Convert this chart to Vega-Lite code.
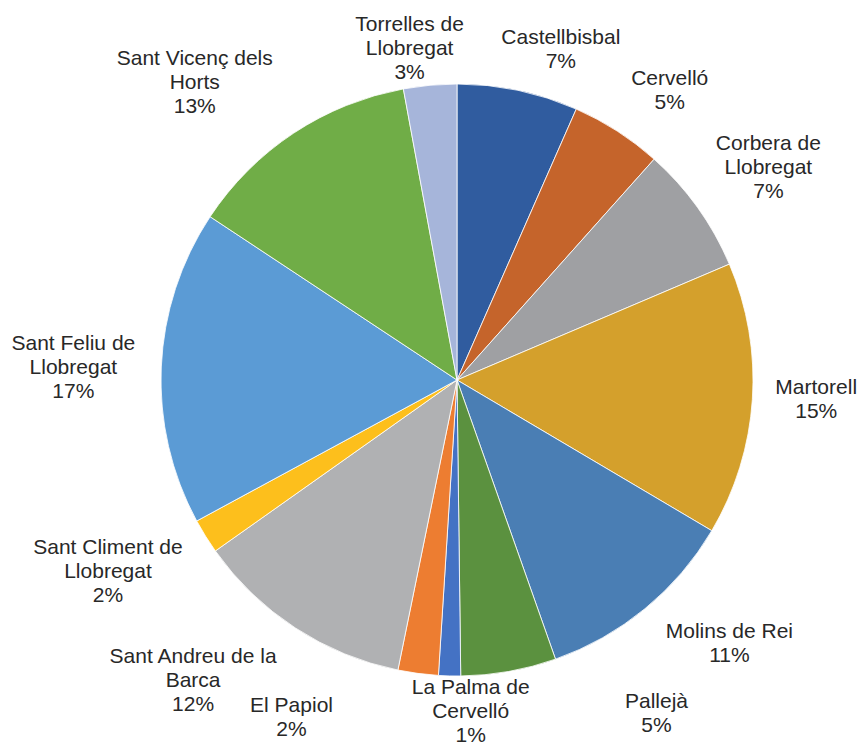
{
  "$schema": "https://vega.github.io/schema/vega-lite/v6.json",
  "width": 806,
  "height": 728,
  "autosize": {"type": "none"},
  "padding": {"left": 54, "top": 16, "right": 0, "bottom": 0},
  "background": "#ffffff",
  "config": {"view": {"stroke": null}, "text": {"font": "Liberation Sans", "fontSize": 21, "lineHeight": 24, "fill": "#282828", "lineBreak": "\n", "align": "center", "baseline": "middle"}},
  "data": {"values": [
    {"i": 1, "name": "Castellbisbal", "value": 6.6, "label": "Castellbisbal\n7%"},
    {"i": 2, "name": "Cervelló", "value": 5.0, "label": "Cervelló\n5%"},
    {"i": 3, "name": "Corbera de Llobregat", "value": 7.0, "label": "Corbera de\nLlobregat\n7%"},
    {"i": 4, "name": "Martorell", "value": 14.9, "label": "Martorell\n15%"},
    {"i": 5, "name": "Molins de Rei", "value": 11.1, "label": "Molins de Rei\n11%"},
    {"i": 6, "name": "Pallejà", "value": 5.2, "label": "Pallejà\n5%"},
    {"i": 7, "name": "La Palma de Cervelló", "value": 1.2, "label": "La Palma de\nCervelló\n1%"},
    {"i": 8, "name": "El Papiol", "value": 2.2, "label": "El Papiol\n2%"},
    {"i": 9, "name": "Sant Andreu de la Barca", "value": 12.0, "label": "Sant Andreu de la\nBarca\n12%"},
    {"i": 10, "name": "Sant Climent de Llobregat", "value": 1.9, "label": "Sant Climent de\nLlobregat\n2%"},
    {"i": 11, "name": "Sant Feliu de Llobregat", "value": 17.2, "label": "Sant Feliu de\nLlobregat\n17%"},
    {"i": 12, "name": "Sant Vicenç dels Horts", "value": 12.8, "label": "Sant Vicenç dels\nHorts\n13%"},
    {"i": 13, "name": "Torrelles de Llobregat", "value": 2.9, "label": "Torrelles de\nLlobregat\n3%"}
  ]},
  "encoding": {
    "theta": {"field": "value", "type": "quantitative", "stack": true},
    "order": {"field": "i", "type": "quantitative"}
  },
  "layer": [
    {
      "mark": {"type": "arc", "outerRadius": 296, "stroke": "#ffffff", "strokeWidth": 0.8},
      "encoding": {
        "color": {
          "field": "name", "type": "nominal", "legend": null,
          "scale": {
            "domain": ["Castellbisbal", "Cervelló", "Corbera de Llobregat", "Martorell", "Molins de Rei", "Pallejà", "La Palma de Cervelló", "El Papiol", "Sant Andreu de la Barca", "Sant Climent de Llobregat", "Sant Feliu de Llobregat", "Sant Vicenç dels Horts", "Torrelles de Llobregat"],
            "range": ["#305C9F", "#C5642B", "#9FA0A3", "#D4A02C", "#4A7EB4", "#5B913F", "#4472C4", "#ED7D31", "#B0B1B3", "#FDBF1C", "#5B9BD5", "#70AD47", "#A6B5DA"]
          }
        }
      }
    },
    {"mark": {"type": "text", "radius": 344, "dx": 33, "dy": -5}, "encoding": {"text": {"condition": {"test": "datum.name === 'Castellbisbal'", "field": "label", "type": "nominal"}, "value": ""}}},
    {"mark": {"type": "text", "radius": 358, "dx": 19, "dy": 0}, "encoding": {"text": {"condition": {"test": "datum.name === 'Cervelló'", "field": "label", "type": "nominal"}, "value": ""}}},
    {"mark": {"type": "text", "radius": 377, "dx": 5, "dy": -16}, "encoding": {"text": {"condition": {"test": "datum.name === 'Corbera de Llobregat'", "field": "label", "type": "nominal"}, "value": ""}}},
    {"mark": {"type": "text", "radius": 360, "dx": 0, "dy": -16}, "encoding": {"text": {"condition": {"test": "datum.name === 'Martorell'", "field": "label", "type": "nominal"}, "value": ""}}},
    {"mark": {"type": "text", "radius": 377, "dx": 33, "dy": -39}, "encoding": {"text": {"condition": {"test": "datum.name === 'Molins de Rei'", "field": "label", "type": "nominal"}, "value": ""}}},
    {"mark": {"type": "text", "radius": 300, "dx": 147, "dy": 27}, "encoding": {"text": {"condition": {"test": "datum.name === 'Pallejà'", "field": "label", "type": "nominal"}, "value": ""}}},
    {"mark": {"type": "text", "radius": 332, "dx": 22, "dy": -24}, "encoding": {"text": {"condition": {"test": "datum.name === 'La Palma de Cervelló'", "field": "label", "type": "nominal"}, "value": ""}}},
    {"mark": {"type": "text", "radius": 300, "dx": -126, "dy": 29}, "encoding": {"text": {"condition": {"test": "datum.name === 'El Papiol'", "field": "label", "type": "nominal"}, "value": ""}}},
    {"mark": {"type": "text", "radius": 397, "dx": -47, "dy": -55}, "encoding": {"text": {"condition": {"test": "datum.name === 'Sant Andreu de la Barca'", "field": "label", "type": "nominal"}, "value": ""}}},
    {"mark": {"type": "text", "radius": 398, "dx": -11, "dy": -42}, "encoding": {"text": {"condition": {"test": "datum.name === 'Sant Climent de Llobregat'", "field": "label", "type": "nominal"}, "value": ""}}},
    {"mark": {"type": "text", "radius": 384, "dx": 0, "dy": -19}, "encoding": {"text": {"condition": {"test": "datum.name === 'Sant Feliu de Llobregat'", "field": "label", "type": "nominal"}, "value": ""}}},
    {"mark": {"type": "text", "radius": 392, "dx": -46, "dy": 6}, "encoding": {"text": {"condition": {"test": "datum.name === 'Sant Vicenç dels Horts'", "field": "label", "type": "nominal"}, "value": ""}}},
    {"mark": {"type": "text", "radius": 334, "dx": -17, "dy": -22}, "encoding": {"text": {"condition": {"test": "datum.name === 'Torrelles de Llobregat'", "field": "label", "type": "nominal"}, "value": ""}}}
  ]
}
